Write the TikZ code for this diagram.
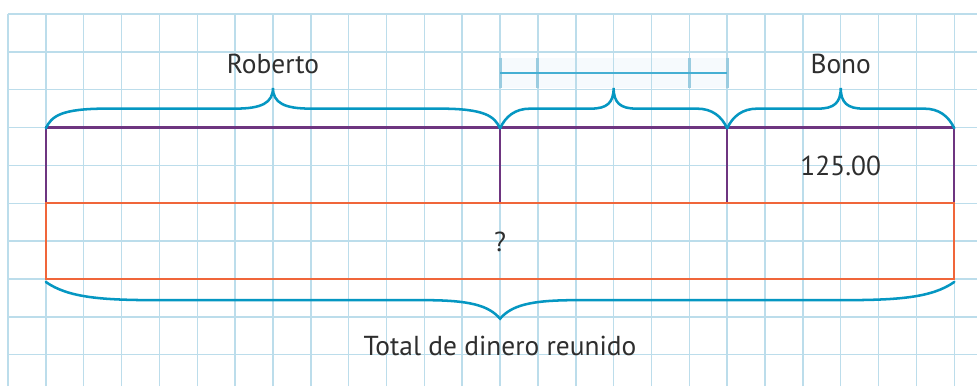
\documentclass[tikz,border=0pt]{standalone}
\usepackage{fontspec}
\setmainfont{PT Sans}
\usepackage{tikz}

\definecolor{gridblue}{HTML}{BCDDEB}
\definecolor{bracecol}{HTML}{0597C2}
\definecolor{barcol}{HTML}{45AFD3}
\definecolor{tickcol}{HTML}{9ACCE0}
\definecolor{barshade}{HTML}{F6FAFD}
\definecolor{boxpurple}{HTML}{6E3580}
\definecolor{boxorange}{HTML}{F0663A}
\definecolor{inkgray}{HTML}{2E2E2E}

\begin{document}
\begin{tikzpicture}[
    gridline/.style={gridblue, line width=1.1pt},
    bracket/.style={bracecol, line width=1.9pt, line cap=round},
    label/.style={text=inkgray, font=\fontsize{20.6}{24}\selectfont, inner sep=0pt}
  ]
\useasboundingbox (-0.211,0.37) rectangle (25.6,-9.83);
\fill[white] (-0.211,0.37) rectangle (25.6,-9.83);
\fill[barshade] (13,-1.15) rectangle (19,-1.95);
\draw[gridline] (0,-9.83) grid (25.6,0);

% blank measure above the middle part
\foreach \x in {13,14,18,19}
  \draw[tickcol, line width=2.2pt] (\x,-1.15) -- (\x,-1.95);
\draw[barcol, line width=1.4pt] (13,-1.57) -- (19,-1.57);

% the two strips
\draw[boxpurple, line width=1.6pt] (1,-5) -- (1,-3) -- (25,-3) -- (25,-5);
\draw[boxpurple, line width=1.6pt] (13,-3) -- (13,-5) (19,-3) -- (19,-5);
\draw[boxorange, line width=1.5pt] (1,-5) rectangle (25,-7);

% braces over the parts
\foreach \a/\b/\m/\e/\c in {1/13/7/1.6/1, 13/19/16/0.8/0.6, 19/25/22/0.8/0.6}
  \draw[bracket] (\a,-3.02) .. controls ({\a+0.15},-2.7) and ({\a+0.4},-2.5) .. ({\a+\e},-2.5)
    -- ({\m-\c},-2.5) .. controls ({\m-0.3*\c},-2.5) and (\m,-2.35) .. (\m,-1.95)
    .. controls (\m,-2.35) and ({\m+0.3*\c},-2.5) .. ({\m+\c},-2.5)
    -- ({\b-\e},-2.5) .. controls ({\b-0.4},-2.5) and ({\b-0.15},-2.7) .. (\b,-3.02);

% brace under the whole
\draw[bracket] (1,-7.08) .. controls (1.6,-7.5) and (2.5,-7.56) .. (4,-7.56)
  -- (11,-7.56) .. controls (12.2,-7.56) and (12.7,-7.7) .. (13,-8.05)
  .. controls (13.3,-7.7) and (13.8,-7.56) .. (15,-7.56)
  -- (22,-7.56) .. controls (23.5,-7.56) and (24.4,-7.5) .. (25,-7.08);

\node[label] (roberto) at (7,-1.33) {Roberto};
\node[label] (bono) at (22,-1.33) {Bono};
\node[label] (bono val) at (22,-4.02) {125.00};
\node[label] (total q) at (13,-6.02) {?};
\node[label] (total) at (13,-8.78) {Total de dinero reunido};
\end{tikzpicture}
\end{document}
